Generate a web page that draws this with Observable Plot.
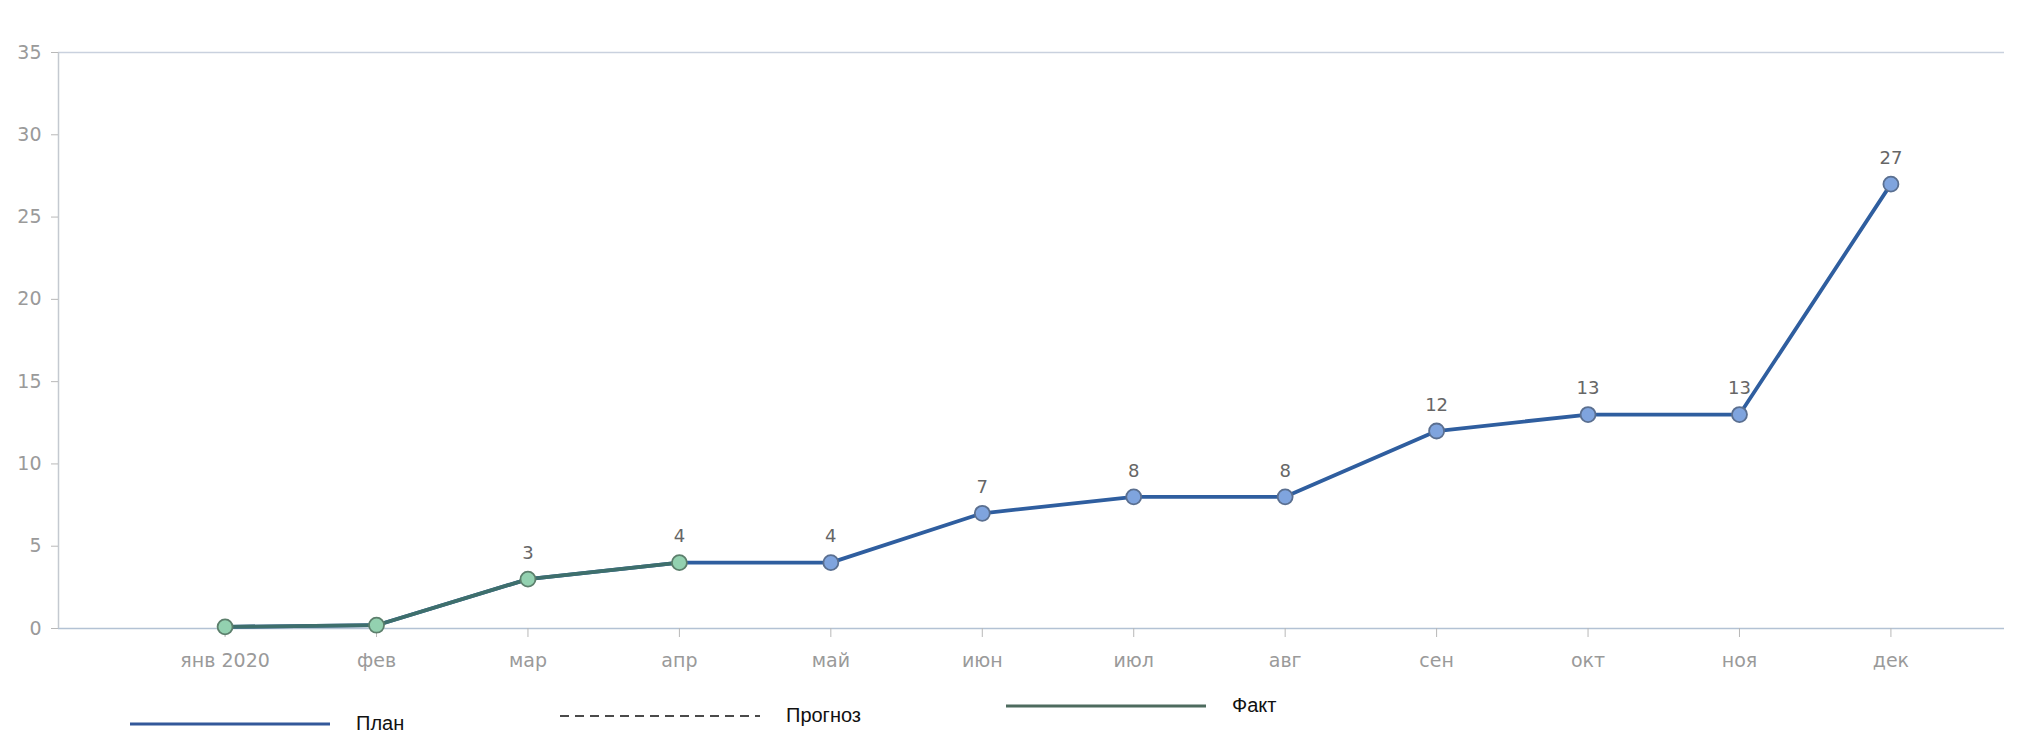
<!DOCTYPE html>
<html><head><meta charset="utf-8">
<script src="https://cdn.jsdelivr.net/npm/d3@7"></script>
<script src="https://cdn.jsdelivr.net/npm/@observablehq/plot@0.6"></script>
<style>
body{margin:0;background:#fff;font-family:"DejaVu Sans",sans-serif;}
#wrap{position:relative;width:2040px;height:748px;overflow:hidden;}
.lg{position:absolute;display:flex;align-items:center;font-family:"Liberation Sans",Arial,sans-serif;font-size:20px;color:#111;}
.lg svg{display:block;margin-right:26px;}
</style></head><body><div id="wrap"><div id="chart"></div></div>
<script>
const months = ["янв 2020","фев","мар","апр","май","июн","июл","авг","сен","окт","ноя","дек"];
const planValues = [0.1,0.2,3,4,4,7,8,8,12,13,13,27];
const factValues = [0.1,0.2,3,4];
const yTicks = [0,5,10,15,20,25,30,35];
const seriesNames = ["План","Прогноз","Факт"];

const planData = months.map((m,i)=>({i, m, v: planValues[i]}));
const factData = factValues.map((v,i)=>({i, m: months[i], v}));
const xDomain = [-1.1, 11.75];

const chart = Plot.plot({
  width: 2040, height: 690,
  marginTop: 52, marginBottom: 62, marginLeft: 58, marginRight: 36,
  style: {fontFamily: "DejaVu Sans, sans-serif", background: "transparent"},
  x: {type: "linear", domain: xDomain, axis: null},
  y: {domain: [0,35], axis: null},
  marks: [
    Plot.ruleY([35], {stroke: "#c9d1de", strokeWidth: 1.5}),
    Plot.ruleY([0], {stroke: "#b3c2d4", strokeWidth: 1.5}),
    Plot.ruleX([xDomain[0]], {stroke: "#c4c9d0", strokeWidth: 1.5}),
    Plot.axisY({ticks: yTicks, tickSize: 7, tickPadding: 10, fontSize: 19, color: "#9a9a9a", stroke: "#b8b8b8", label: null}),
    Plot.axisX({ticks: d3.range(months.length), tickFormat: i => months[i], tickSize: 9, tickPadding: 16, fontSize: 19, color: "#9a9a9a", stroke: "#b8b8b8", label: null}),
    Plot.lineY(planData, {x: "i", y: "v", stroke: "#2f5e9f", strokeWidth: 3.8}),
    Plot.lineY(factData, {x: "i", y: "v", stroke: "#3e6f6c", strokeWidth: 3.8}),
    Plot.dot(planData.filter(d => d.i >= factData.length), {x: "i", y: "v", r: 7.5, fill: "#7fa4de", stroke: "#5a6f90", strokeWidth: 1.8}),
    Plot.dot(factData, {x: "i", y: "v", r: 7.5, fill: "#93d1b0", stroke: "#5c7f6c", strokeWidth: 1.8}),
    Plot.text(planData.filter(d => d.v >= 1), {x: "i", y: "v", text: d => String(Math.round(d.v)), dy: -26, fontSize: 18, fill: "#666"})
  ]
});
document.getElementById("chart").appendChild(chart);

const legendSpec = [
  {name: seriesNames[0], left: 130, top: 712, stroke: "#33589a", width: 3, dash: null},
  {name: seriesNames[1], left: 560, top: 704, stroke: "#4a4a4a", width: 2, dash: "9,6"},
  {name: seriesNames[2], left: 1006, top: 694, stroke: "#4d6b5e", width: 3, dash: null}
];
const wrap = document.getElementById("wrap");
for (const s of legendSpec) {
  const div = document.createElement("div");
  div.className = "lg";
  div.style.left = s.left + "px";
  div.style.top = s.top + "px";
  div.innerHTML = `<svg width="200" height="20"><line x1="0" y1="10" x2="200" y2="10" stroke="${s.stroke}" stroke-width="${s.width}" ${s.dash ? `stroke-dasharray="${s.dash}"` : ""}/></svg><span>${s.name}</span>`;
  wrap.appendChild(div);
}
</script>
</body></html>
